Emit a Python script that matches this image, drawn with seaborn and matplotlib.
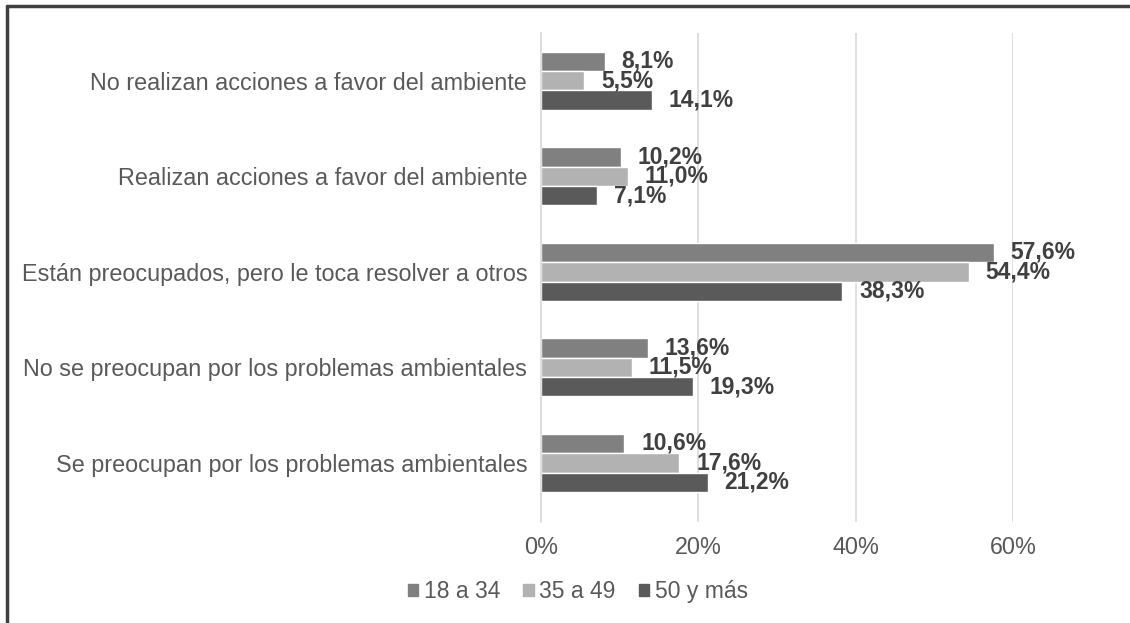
#!/usr/bin/env python3
# coding: utf-8

import matplotlib.pyplot as plt
import matplotlib.lines as mlines
import seaborn as sns
import pandas as pd

plt.switch_backend('Agg')

categories = ['No realizan acciones a favor del ambiente',
              'Realizan acciones a favor del ambiente',
              'Están preocupados, pero le toca resolver a otros',
              'No se preocupan por los problemas ambientales',
              'Se preocupan por los problemas ambientales']
groups = ['18 a 34', '35 a 49', '50 y más']
v_18_34 = [8.1, 10.2, 57.6, 13.6, 10.6]
v_35_49 = [5.5, 11.0, 54.4, 11.5, 17.6]
v_50 = [14.1, 7.1, 38.3, 19.3, 21.2]
colors = ['#808080', '#b2b2b2', '#5a5a5a']

rows = []
for g, vals in zip(groups, [v_18_34, v_35_49, v_50]):
    for c, v in zip(categories, vals):
        rows.append({'cat': c, 'grupo': g, 'valor': v})
df = pd.DataFrame(rows)

sns.set_style('white')
plt.rcParams['font.family'] = ['Liberation Sans', 'DejaVu Sans']
text_col = '#595959'

fig = plt.figure(figsize=(11.3, 6.23), dpi=100)
ax = fig.add_axes([0.4788, 0.162, 0.4177, 0.785])

sns.barplot(data=df, y='cat', x='valor', hue='grupo', order=categories,
            hue_order=groups, palette=colors, orient='h', width=0.61,
            saturation=1, ax=ax, legend=False)

ax.set_xlim(0, 60)
ax.set_ylim(4.62, -0.5)
ax.set_xticks([0, 20, 40, 60])
ax.set_xticklabels(['0%', '20%', '40%', '60%'])
ax.xaxis.grid(True, color='#d9d9d9', linewidth=1.2)
ax.set_axisbelow(True)
for s in ['top', 'right', 'bottom']:
    ax.spines[s].set_visible(False)
ax.spines['left'].set_color('#d9d9d9')
ax.spines['left'].set_linewidth(1.2)
ax.set_xlabel('')
ax.set_ylabel('')
ax.tick_params(axis='both', length=0, labelsize=16.8, labelcolor=text_col)
ax.tick_params(axis='x', pad=10)
ax.tick_params(axis='y', pad=10)

for cont in ax.containers:
    for bar in cont:
        w = bar.get_width()
        y = bar.get_y() + bar.get_height() / 2
        ax.annotate(f'{w:.1f}%'.replace('.', ','), (w, y),
                    xytext=(12, 0), textcoords='offset points',
                    ha='left', va='center', fontsize=16.5, fontweight='bold',
                    color='#404040', annotation_clip=False)

handles = [plt.Rectangle((0, 0), 1, 1, color=c) for c in colors]
fig.legend(handles, groups, loc='center', bbox_to_anchor=(0.5115, 0.05),
           ncol=3, frameon=False, fontsize=16.5, handlelength=0.45,
           handleheight=0.45, handletextpad=0.25, columnspacing=1.0,
           labelcolor=text_col)

# page border from the source document
fig.add_artist(mlines.Line2D([0.006, 1.0], [0.990, 0.990], color='#404040',
                             linewidth=2.5, transform=fig.transFigure))
fig.add_artist(mlines.Line2D([0.0065, 0.0065], [0.0, 0.990], color='#404040',
                             linewidth=2.5, transform=fig.transFigure))

plt.savefig('out.png', dpi=100)
